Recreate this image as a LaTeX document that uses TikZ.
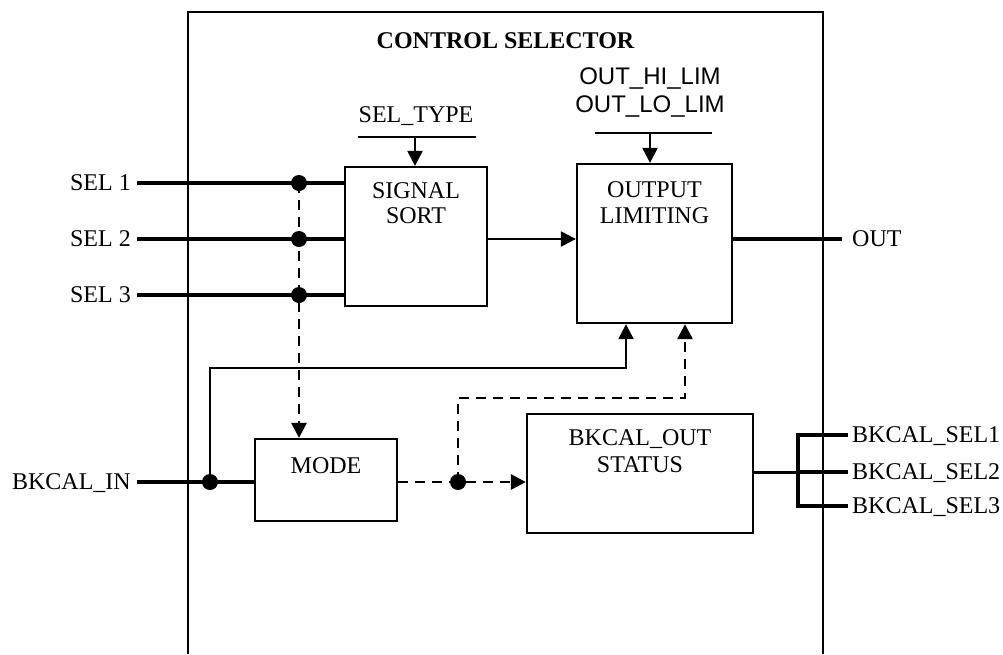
\documentclass[tikz,border=0pt]{standalone}
\usepackage{fontspec}
\setmainfont{Liberation Serif}
\newfontfamily\arialf{Liberation Sans}
\usetikzlibrary{arrows.meta}
\begin{document}
\begin{tikzpicture}[x=1pt,y=-1pt,
  thinline/.style={line width=2.3pt},
  thickline/.style={line width=4.8pt},
  box/.style={draw, line width=2.3pt, rectangle, inner sep=0pt},
  lbl/.style={font=\fontsize{24}{27}\selectfont, inner sep=0pt},
  albl/.style={font=\arialf\fontsize{24}{28}\selectfont, inner sep=0pt},
  dashline/.style={line width=2.8pt, dash pattern=on 10pt off 7pt},
  arr/.style={-{Triangle[length=15pt,width=15pt]}},
  dot/.style={circle, fill, inner sep=0pt, minimum size=16pt}]
\useasboundingbox (0,0) rectangle (1003,654);
% outer frame
\draw[line width=2pt] (188,654) -- (188,12) -- (823,12) -- (823,654);
\node[lbl, font=\bfseries\fontsize{24}{27}\selectfont, anchor=base] (title) at (505.5,48) {CONTROL SELECTOR};
% boxes
\node[box, minimum width=142pt, minimum height=139pt] (sort) at (416,236.5) {};
\node[box, minimum width=155pt, minimum height=159pt] (limit) at (654.5,243.5) {};
\node[box, minimum width=142pt, minimum height=82pt] (mode) at (326,480) {};
\node[box, minimum width=226pt, minimum height=119pt] (bkout) at (640,473.5) {};
% box texts
\node[lbl, anchor=base] (sortt1) at (416,198) {SIGNAL};
\node[lbl, anchor=base] (sortt2) at (416,223) {SORT};
\node[lbl, anchor=base] (limt1) at (654.5,197) {OUTPUT};
\node[lbl, anchor=base] (limt2) at (654.5,223) {LIMITING};
\node[lbl, anchor=base] (modet) at (326,473) {MODE};
\node[lbl, anchor=base] (bkt1) at (640,445) {BKCAL\_OUT};
\node[lbl, anchor=base] (bkt2) at (640,472) {STATUS};
% parameter inputs
\node[lbl, anchor=base] (seltype) at (416,122) {SEL\_TYPE};
\coordinate (stl) at (358,137);
\coordinate (str) at (476,137);
\coordinate (sta) at (415,137);
\draw[thinline] (stl) -- (str);
\draw[thinline, arr] (sta) -- (sta |- sort.north);
\node[albl, anchor=base] (hilim) at (650,84) {OUT\_HI\_LIM};
\node[albl, anchor=base] (lolim) at (650,112) {OUT\_LO\_LIM};
\coordinate (ltl) at (595,133);
\coordinate (ltr) at (712,133);
\coordinate (lta) at (650,133);
\draw[thinline] (ltl) -- (ltr);
\draw[thinline, arr] (lta) -- (lta |- limit.north);
% SEL inputs
\coordinate (s1) at (137,183);
\coordinate (s2) at (137,239);
\coordinate (s3) at (137,295);
\node[lbl, anchor=base east] (sel1) at (131,190) {SEL 1};
\node[lbl, anchor=base east] (sel2) at (131,246) {SEL 2};
\node[lbl, anchor=base east] (sel3) at (131,302) {SEL 3};
\draw[thickline] (s1) -- (s1 -| sort.west);
\draw[thickline] (s2) -- (s2 -| sort.west);
\draw[thickline] (s3) -- (s3 -| sort.west);
\node[dot] (d1) at (299,183) {};
\node[dot] (d2) at (299,239) {};
\node[dot] (d3) at (299,295) {};
\draw[dashline, arr] (d1.center) -- (d1 |- mode.north);
% sort -> limit
\draw[thinline, arr] (s2 -| sort.east) -- (s2 -| limit.west);
% OUT
\coordinate (outend) at (842,239);
\draw[thickline] (s2 -| limit.east) -- (outend);
\node[lbl, anchor=base west] (outl) at (852,246) {OUT};
% BKCAL_IN
\coordinate (bkin) at (137,482);
\node[lbl, anchor=base east] (bkinl) at (131,489) {BKCAL\_IN};
\draw[thickline] (bkin) -- (bkin -| mode.west);
\node[dot] (din) at (210,482) {};
\coordinate (t1) at (626,368);
\draw[thinline, arr] (din.center) |- (t1) -- (t1 |- limit.south);
% mode -> bkout
\node[dot] (d4) at (458,482) {};
\draw[dashline, arr] (bkin -| mode.east) -- (bkin -| bkout.west);
\coordinate (t2) at (685,398);
\draw[dashline, arr] (d4.center) |- (t2) -- (t2 |- limit.south);
% BKCAL_SEL outputs
\coordinate (bus) at (798,472);
\coordinate (b1) at (848,435);
\coordinate (b2) at (848,472);
\coordinate (b3) at (848,506);
\draw[line width=3pt] (bus -| bkout.east) -- (bus);
\draw[thickline] (b1) -- (bus |- b1) -- (bus |- b3) -- (b3);
\draw[thickline] (bus) -- (b2);
\node[lbl, anchor=base west] (bs1) at (852,442) {BKCAL\_SEL1};
\node[lbl, anchor=base west] (bs2) at (852,479) {BKCAL\_SEL2};
\node[lbl, anchor=base west] (bs3) at (852,513) {BKCAL\_SEL3};
\end{tikzpicture}
\end{document}
